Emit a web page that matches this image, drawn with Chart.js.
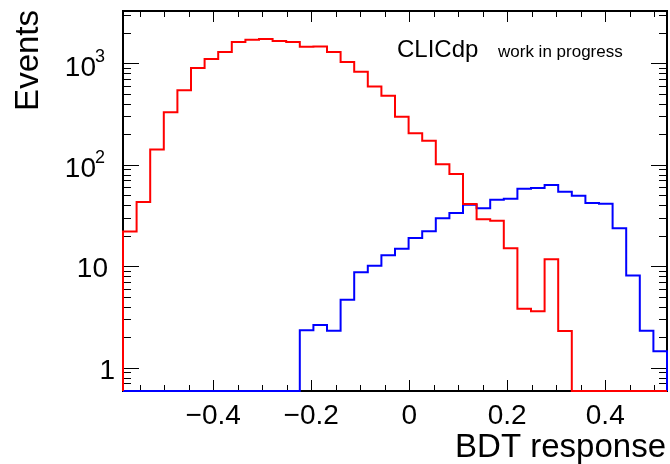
<!DOCTYPE html>
<html>
<head>
<meta charset="utf-8">
<script src="https://cdn.jsdelivr.net/npm/chart.js@4/dist/chart.umd.min.js"></script>
<style>
  body { margin: 0; background: #fff; }
  #wrap { width: 670px; height: 464px; position: relative; }
</style>
</head>
<body>
<div id="wrap"><canvas id="c"></canvas></div>
<script>
// binning of the histograms
const xLow = -0.584;
const xHigh = 0.526;
const nBins = 40;

// bin contents, 0 = empty bin
const redCounts = [22, 43, 141, 330, 541, 897, 1099, 1289, 1618, 1706,
  1731, 1655, 1618, 1455, 1467, 1289, 1028, 824, 592, 478,
  297, 204, 172, 101, 81, 41, 29, 28, 15, 3.8,
  3.6, 11.7, 2.3, 0, 0, 0, 0, 0, 0, 0];
const blueCounts = [0, 0, 0, 0, 0, 0, 0, 0, 0, 0,
  0, 0, 0, 2.34, 2.63, 2.31, 4.68, 8.7, 10.1, 12.8,
  14.9, 19.0, 22.1, 29.7, 33.4, 40.3, 37.2, 45.2, 46.2, 58.0,
  58.9, 63.0, 54.2, 49.5, 42.0, 41.3, 23.6, 8.1, 2.31, 1.45];

const xTickValues = [-0.4, -0.2, 0, 0.2, 0.4];
const xMinorValues = [-0.55, -0.5, -0.45, -0.35, -0.3, -0.25, -0.15, -0.1, -0.05,
  0.05, 0.1, 0.15, 0.25, 0.3, 0.35, 0.45, 0.5];
const yTickValues = [1, 10, 100, 1000];
const yTickLabels = [["1", ""], ["10", ""], ["10", "2"], ["10", "3"]];
const yMin = 0.589;
const yMax = 3275;

const FONT = "'Liberation Sans', Arial, sans-serif";

function histPoints(counts) {
  const w = (xHigh - xLow) / nBins;
  const pts = [{ x: xLow, y: yMin }];
  counts.forEach((c, i) => {
    pts.push({ x: xLow + i * w, y: c > 0 ? c : yMin });
  });
  const last = counts[counts.length - 1];
  pts.push({ x: xHigh, y: last > 0 ? last : yMin });
  pts.push({ x: xHigh, y: yMin });
  return pts;
}

function fmt(v) {
  if (Math.abs(v) < 1e-9) return "0";
  return (v < 0 ? "\u2212" : "") + Math.abs(v).toFixed(1);
}

// ROOT style frame with ticks on all four sides
const rootFrame = {
  id: "rootFrame",
  beforeDatasetsDraw(chart) {
    const ctx = chart.ctx;
    const a = chart.chartArea;
    const xs = chart.scales.x;
    const ys = chart.scales.y;
    ctx.save();
    ctx.strokeStyle = "#000";
    ctx.lineWidth = 1;
    ctx.beginPath();
    xTickValues.forEach((v) => {
      const px = Math.round(xs.getPixelForValue(v)) + 0.5;
      ctx.moveTo(px, a.bottom); ctx.lineTo(px, a.bottom - 11);
      ctx.moveTo(px, a.top); ctx.lineTo(px, a.top + 11);
    });
    xMinorValues.forEach((v) => {
      const px = Math.round(xs.getPixelForValue(v)) + 0.5;
      ctx.moveTo(px, a.bottom); ctx.lineTo(px, a.bottom - 6);
      ctx.moveTo(px, a.top); ctx.lineTo(px, a.top + 6);
    });
    for (let d = -1; d <= 3; d++) {
      for (let k = 1; k <= 9; k++) {
        const v = k * Math.pow(10, d);
        if (v < yMin || v > yMax) continue;
        const len = k === 1 ? 16 : 8;
        const py = Math.round(ys.getPixelForValue(v)) + 0.5;
        ctx.moveTo(a.left, py); ctx.lineTo(a.left + len, py);
        ctx.moveTo(a.right, py); ctx.lineTo(a.right - len, py);
      }
    }
    ctx.stroke();
    ctx.lineWidth = 2;
    ctx.strokeRect(a.left, a.top, a.right - a.left, a.bottom - a.top);
    ctx.restore();
  },
  afterDraw(chart) {
    const ctx = chart.ctx;
    const ys = chart.scales.y;
    ctx.save();
    ctx.fillStyle = "#000";
    ctx.textBaseline = "alphabetic";
    // y tick labels
    yTickValues.forEach((v, i) => {
      const py = ys.getPixelForValue(v);
      const base = yTickLabels[i][0];
      const sup = yTickLabels[i][1];
      ctx.font = "28px " + FONT;
      ctx.textAlign = "right";
      if (sup) {
        ctx.fillText(base, 96, py + 12.5);
        ctx.font = "18px " + FONT;
        ctx.textAlign = "left";
        ctx.fillText(sup, 95, py - 1.5);
      } else {
        ctx.fillText(base, base === "1" ? 115 : 108, py + 11);
      }
    });
    // axis titles
    ctx.font = "33px " + FONT;
    ctx.textAlign = "right";
    ctx.fillText("BDT response", 666, 456.5);
    ctx.save();
    ctx.translate(37.5, 10);
    ctx.rotate(-Math.PI / 2);
    ctx.fillText("Events", 0, 0);
    ctx.restore();
    // label
    ctx.textAlign = "left";
    ctx.font = "24px " + FONT;
    ctx.fillText("CLICdp", 397, 56.7);
    ctx.font = "17px " + FONT;
    ctx.fillText("work in progress", 498, 56.7);
    ctx.restore();
  }
};

const ctx = document.getElementById("c").getContext("2d");
const chart = new Chart(ctx, {
  type: "line",
  data: {
    datasets: [
      {
        label: "background",
        data: histPoints(redCounts),
        borderColor: "#ff0000",
        borderWidth: 2,
        stepped: "before",
        pointRadius: 0,
        fill: false,
        clip: false,
        borderJoinStyle: "miter",
      },
      {
        label: "signal",
        data: histPoints(blueCounts),
        borderColor: "#0000ff",
        borderWidth: 2,
        stepped: "before",
        pointRadius: 0,
        fill: false,
        clip: false,
        borderJoinStyle: "miter",
      },
    ],
  },
  options: {
    animation: false,
    responsive: true,
    maintainAspectRatio: false,
    layout: { padding: { top: 11, right: 3, left: 0, bottom: 0 } },
    plugins: {
      legend: { display: false },
      tooltip: { enabled: false },
    },
    scales: {
      x: {
        type: "linear",
        min: xLow,
        max: xHigh,
        grid: { display: false },
        border: { display: false },
        afterBuildTicks: (s) => {
          s.ticks = xTickValues.map((v) => ({ value: v }));
        },
        afterFit: (s) => {
          s.height = 73;
        },
        ticks: {
          color: "#000",
          font: { family: FONT, size: 28 },
          padding: 0,
          maxRotation: 0,
          autoSkip: false,
          callback: (v) => fmt(v),
        },
      },
      y: {
        type: "logarithmic",
        min: yMin,
        max: yMax,
        grid: { display: false },
        border: { display: false },
        ticks: { display: false },
        afterFit: (s) => {
          s.width = 123;
        },
      },
    },
  },
  plugins: [rootFrame],
});
</script>
</body>
</html>
